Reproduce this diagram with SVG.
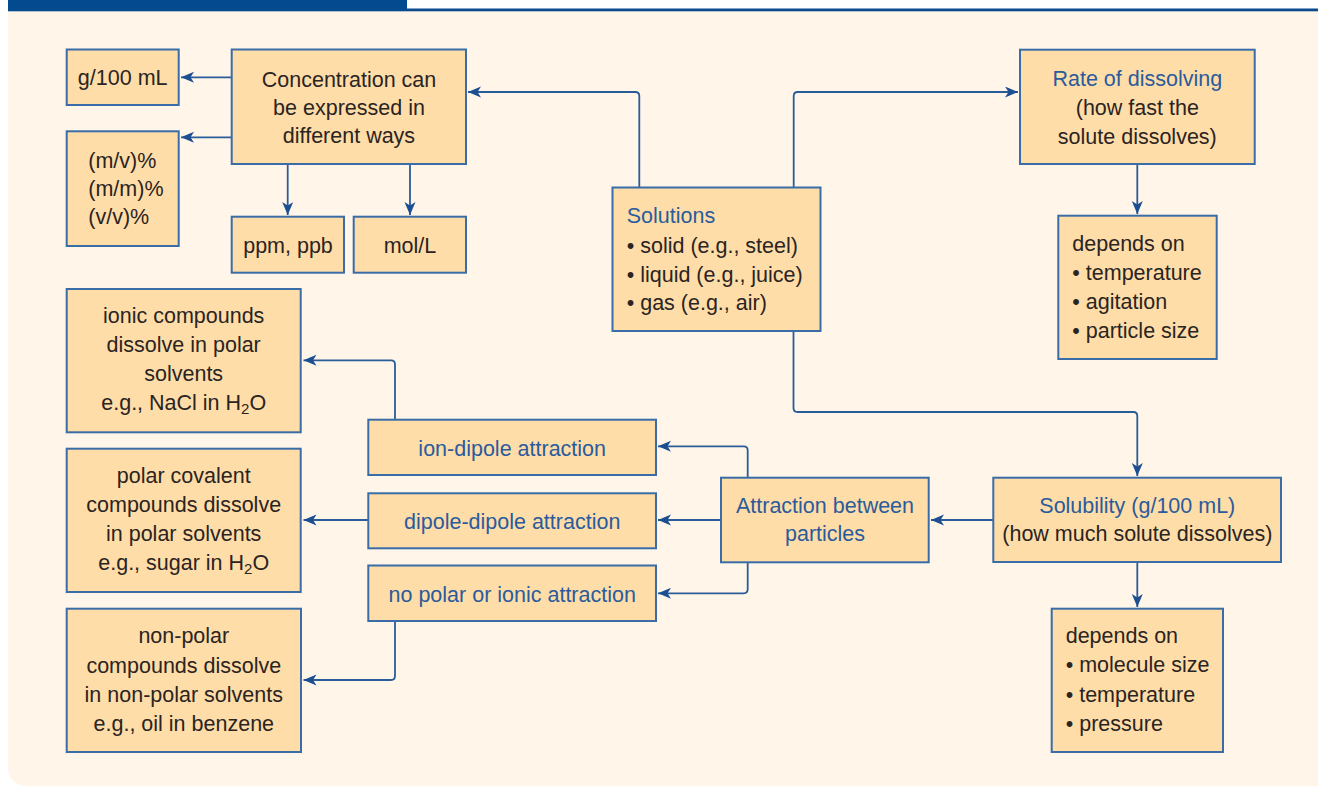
<svg xmlns="http://www.w3.org/2000/svg" width="1318" height="786" viewBox="0 0 1318 786">
<defs>
<marker id="ah" markerUnits="userSpaceOnUse" markerWidth="14" markerHeight="12" refX="13" refY="5.5" orient="auto">
<path d="M0,0 L13,5.5 L0,11 L3.5,5.5 z" fill="#1B4F91"/>
</marker>
<style>
.box{fill:#FFDDA8;stroke:#3A6CA7;stroke-width:2}
.c{fill:none;stroke:#2A5C9A;stroke-width:1.8;marker-end:url(#ah)}
text{font-family:"Liberation Sans",Arial,sans-serif;font-size:21.5px;fill:#2A2422}
.m{text-anchor:middle}
.b{fill:#2A5B9C}
.sub{font-size:15px}
</style>
</defs>
<rect width="1318" height="786" fill="#FFFFFF"/>
<path d="M8,11 H1318 V786 H28 Q8,786 8,766 Z" fill="#FFF5E8"/>
<rect x="407" y="8.5" width="911" height="2.8" fill="#0B4A8E"/>
<rect x="8" y="0" width="399" height="11.3" fill="#034A8E"/>

<g id="connectors">
<path class="c" d="M639.3,187.7 V96 Q639.3,92 635.3,92 H468"/>
<path class="c" d="M793.7,187.7 V96 Q793.7,92 797.7,92 H1018"/>
<path class="c" d="M793.5,331 V408 Q793.5,412 797.5,412 H1133.3 Q1137.3,412 1137.3,416 V476"/>
<path class="c" d="M232,77.3 H181"/>
<path class="c" d="M232,137.3 H181"/>
<path class="c" d="M287.7,164 V215"/>
<path class="c" d="M410,164 V215"/>
<path class="c" d="M1137.3,164 V214"/>
<path class="c" d="M1137.3,562 V607"/>
<path class="c" d="M993.3,520 H931"/>
<path class="c" d="M747.7,477.7 V450.3 Q747.7,446.3 743.7,446.3 H658"/>
<path class="c" d="M721,520 H658"/>
<path class="c" d="M747.7,562.3 V589.3 Q747.7,593.3 743.7,593.3 H658"/>
<path class="c" d="M395,419.7 V364.3 Q395,360.3 391,360.3 H303.5"/>
<path class="c" d="M369,520 H303.5"/>
<path class="c" d="M395,621 V676 Q395,680 391,680 H303.5"/>
</g>

<g id="g100">
<rect class="box" x="66.7" y="49.5" width="112" height="55.5"/>
<text class="m" x="122.7" y="85">g/100 mL</text>
</g>
<g id="concentration">
<rect class="box" x="231.7" y="49.5" width="234.3" height="114.5"/>
<text class="m" x="349" y="86.7">Concentration can</text>
<text class="m" x="349" y="115">be expressed in</text>
<text class="m" x="349" y="143.3">different ways</text>
</g>
<g id="percent">
<rect class="box" x="66.7" y="131.3" width="112" height="114.7"/>
<text x="88.3" y="167.7">(m/v)%</text>
<text x="88.3" y="196">(m/m)%</text>
<text x="88.3" y="224.3">(v/v)%</text>
</g>
<g id="ppm">
<rect class="box" x="231.7" y="216.7" width="112.3" height="56"/>
<text class="m" x="288" y="253.3">ppm, ppb</text>
</g>
<g id="molL">
<rect class="box" x="353.7" y="216.7" width="112.3" height="56"/>
<text class="m" x="410" y="253.3">mol/L</text>
</g>
<g id="solutions">
<rect class="box" x="612.5" y="187.5" width="208" height="143.5"/>
<text class="b" x="626.7" y="222.7">Solutions</text>
<text x="626.7" y="252.7">• solid (e.g., steel)</text>
<text x="626.7" y="281.5">• liquid (e.g., juice)</text>
<text x="626.7" y="310">• gas (e.g., air)</text>
</g>
<g id="rate">
<rect class="box" x="1020" y="49.7" width="234.7" height="114.3"/>
<text class="m b" x="1137.3" y="85.7">Rate of dissolving</text>
<text class="m" x="1137.3" y="115">(how fast the</text>
<text class="m" x="1137.3" y="144.3">solute dissolves)</text>
</g>
<g id="depends1">
<rect class="box" x="1058.3" y="215.7" width="158.4" height="143.3"/>
<text x="1072.3" y="250.7">depends on</text>
<text x="1072.3" y="279.7">• temperature</text>
<text x="1072.3" y="308.7">• agitation</text>
<text x="1072.3" y="337.7">• particle size</text>
</g>
<g id="ionic">
<rect class="box" x="66.7" y="289" width="234" height="143.3"/>
<text class="m" x="183.7" y="323.3">ionic compounds</text>
<text class="m" x="183.7" y="352.3">dissolve in polar</text>
<text class="m" x="183.7" y="381.3">solvents</text>
<text class="m" x="183.7" y="410.3">e.g., NaCl in H<tspan class="sub" dy="4">2</tspan><tspan dy="-4">O</tspan></text>
</g>
<g id="iondipole">
<rect class="box" x="368.3" y="419.7" width="287.7" height="55.3"/>
<text class="m b" x="512.2" y="456">ion-dipole attraction</text>
</g>
<g id="polarcov">
<rect class="box" x="66.7" y="448.7" width="234" height="143.3"/>
<text class="m" x="183.7" y="483.3">polar covalent</text>
<text class="m" x="183.7" y="512.3">compounds dissolve</text>
<text class="m" x="183.7" y="541.3">in polar solvents</text>
<text class="m" x="183.7" y="570.3">e.g., sugar in H<tspan class="sub" dy="4">2</tspan><tspan dy="-4">O</tspan></text>
</g>
<g id="dipoledipole">
<rect class="box" x="368.3" y="493.3" width="287.7" height="55"/>
<text class="m b" x="512.2" y="529.3">dipole-dipole attraction</text>
</g>
<g id="attraction">
<rect class="box" x="721" y="477.7" width="207.7" height="84.6"/>
<text class="m b" x="825" y="512.7">Attraction between</text>
<text class="m b" x="825" y="541">particles</text>
</g>
<g id="solubility">
<rect class="box" x="993.3" y="477.7" width="287.7" height="84.3"/>
<text class="m b" x="1137.3" y="512.7">Solubility (g/100 mL)</text>
<text class="m" x="1137.3" y="540.5">(how much solute dissolves)</text>
</g>
<g id="nopolar">
<rect class="box" x="368.3" y="565.5" width="287.7" height="55.5"/>
<text class="m b" x="512.2" y="602.3">no polar or ionic attraction</text>
</g>
<g id="nonpolar">
<rect class="box" x="66.7" y="608.7" width="234.3" height="143.3"/>
<text class="m" x="183.8" y="643.3">non-polar</text>
<text class="m" x="183.8" y="672.5">compounds dissolve</text>
<text class="m" x="183.8" y="701.7">in non-polar solvents</text>
<text class="m" x="183.8" y="730.7">e.g., oil in benzene</text>
</g>
<g id="depends2">
<rect class="box" x="1051.7" y="608.7" width="171.3" height="143.3"/>
<text x="1065.7" y="643.3">depends on</text>
<text x="1065.7" y="672.3">• molecule size</text>
<text x="1065.7" y="701.5">• temperature</text>
<text x="1065.7" y="730.7">• pressure</text>
</g>
</svg>
